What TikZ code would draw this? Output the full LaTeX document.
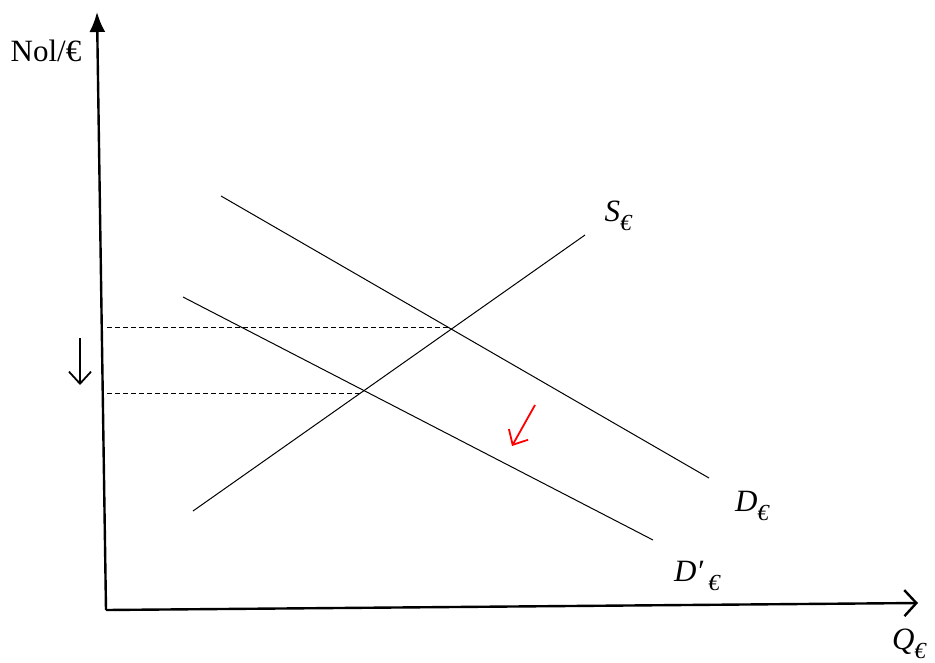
\documentclass[tikz,border=0pt]{standalone}
\usepackage{fontspec}
\setmainfont{Liberation Serif}
\usetikzlibrary{arrows.meta}
\newcommand\eurosub{\raisebox{-0.28em}{\fontsize{23}{26}\selectfont €}}
\begin{document}
\begin{tikzpicture}[x=1pt,y=-1pt,
  axis/.style={line width=2.4pt},
  curve/.style={line width=1pt},
  guide/.style={line width=0.9pt,dash pattern=on 5pt off 3pt},
  shiftarrow/.style={line width=1.8pt,-{Straight Barb[length=12pt,width=22pt,line width=1.8pt]}},
  lbl/.style={font=\fontsize{31}{36}\selectfont,inner sep=0pt},
  mlbl/.style={font=\fontsize{31}{36}\selectfont\itshape,inner sep=0pt}]
\useasboundingbox (0,0) rectangle (935,662);
% axes
\coordinate (O) at (106,610);
\coordinate (Ytop) at (97,12);
\coordinate (Xend) at (918,603);
\draw[axis,-{Latex[length=20pt,width=16pt]}] (O) -- (Ytop);
\draw[axis,-{Straight Barb[length=12pt,width=26pt,line width=2.4pt]}] (O) -- (Xend);
% curves
\coordinate (D1) at (221,196); \coordinate (D2) at (709,478);
\coordinate (E1) at (183,297); \coordinate (E2) at (653,540);
\coordinate (S1) at (193,511); \coordinate (S2) at (585,235);
\draw[curve] (D1) -- (D2);
\draw[curve] (E1) -- (E2);
\draw[curve] (S1) -- (S2);
% dashed guides
\coordinate (P1a) at (107,327); \coordinate (P1b) at (449,327);
\coordinate (P2a) at (107,393); \coordinate (P2b) at (361,393);
\draw[guide] (P1a) -- (P1b);
\draw[guide] (P2a) -- (P2b);
% shift arrows
\coordinate (A1) at (80,338); \coordinate (A2) at (80,385);
\draw[shiftarrow] (A1) -- (A2);
\coordinate (R1) at (535,405); \coordinate (R2) at (512,446);
\draw[shiftarrow,red] (R1) -- (R2);
% labels
\node[lbl] (ylab) at (46,51) {Nol/€};
\node[mlbl] (slab) at (618,216) {S\eurosub};
\node[mlbl] (dlab) at (752,506) {D\eurosub};
\node[mlbl] (dplab) at (697,576) {D′\,\eurosub};
\node[mlbl] (qlab) at (909,644) {Q\eurosub};
\end{tikzpicture}
\end{document}
